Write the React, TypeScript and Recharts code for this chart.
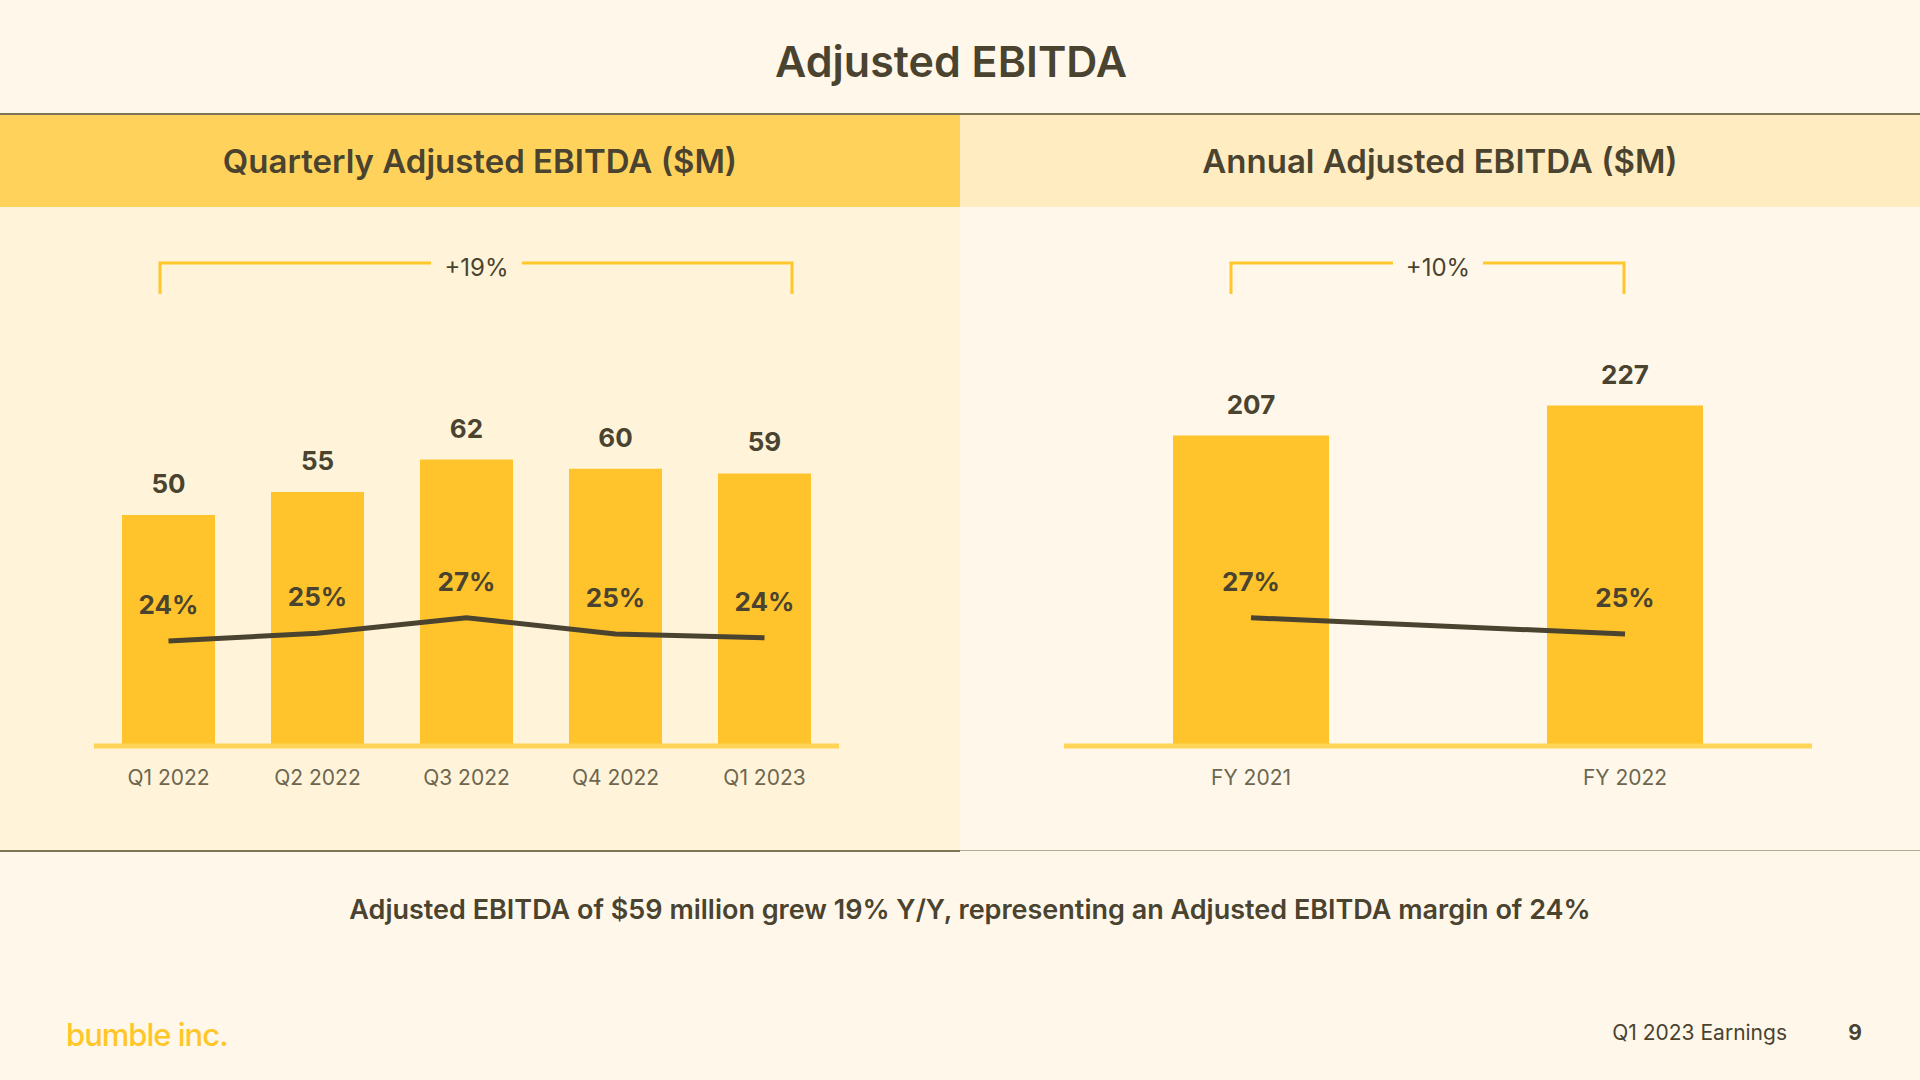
import * as React from "react";
import { Bar, ComposedChart, LabelList, Line, XAxis, YAxis } from "recharts";

const quarters = ["Q1 2022", "Q2 2022", "Q3 2022", "Q4 2022", "Q1 2023"];
const quarterlyEbitda = [50, 55, 62, 60, 59];
const quarterlyMargin = [23.9, 24.9, 26.9, 24.8, 24.3];

const years = ["FY 2021", "FY 2022"];
const annualEbitda = [207, 227];
const annualMargin = [26.9, 24.8];

const FONT = "Inter, 'Open Sans', sans-serif";
const DARK = "#4a4330";
const BAR = "#ffc42b";
const AXIS = "#ffd457";
const BRACKET = "#ffc72c";

const quarterlyData = quarters.map((name, i) => ({
  name,
  ebitda: quarterlyEbitda[i],
  margin: quarterlyMargin[i],
}));

const annualData = years.map((name, i) => ({
  name,
  ebitda: annualEbitda[i],
  margin: annualMargin[i],
}));

interface PanelChartProps {
  data: { name: string; ebitda: number; margin: number }[];
  valueMax: number;
  barSize: number;
  left: number;
  right: number;
}

// one chart: bars for $M, line for margin (own hidden axis)
const PanelChart = ({ data, valueMax, barSize, left, right }: PanelChartProps) => (
  <ComposedChart
    width={960}
    height={644}
    data={data}
    margin={{ top: 77, right, left, bottom: 65 }}
  >
    <XAxis
      dataKey="name"
      height={40}
      tickLine={false}
      tickSize={0}
      tickMargin={24}
      axisLine={{ stroke: AXIS, strokeWidth: 5 }}
      tick={{ fill: "#6d6650", fontSize: 21, fontFamily: FONT }}
      interval={0}
    />
    <YAxis yAxisId="v" hide domain={[0, valueMax]} />
    <YAxis yAxisId="p" hide domain={[10.3, 70.1]} />
    <Bar yAxisId="v" dataKey="ebitda" fill={BAR} barSize={barSize} isAnimationActive={false}>
      <LabelList
        dataKey="ebitda"
        position="top"
        offset={22}
        fill={DARK}
        fontSize={26}
        fontWeight={700}
        fontFamily={FONT}
      />
    </Bar>
    <Line
      yAxisId="p"
      dataKey="margin"
      type="linear"
      stroke={DARK}
      strokeWidth={5}
      dot={false}
      activeDot={false}
      isAnimationActive={false}
    >
      <LabelList
        dataKey="margin"
        position="top"
        offset={27}
        fill={DARK}
        fontSize={26}
        fontWeight={700}
        fontFamily={FONT}
        formatter={(v: number) => `${Math.round(v)}%`}
      />
    </Line>
  </ComposedChart>
);

const Bracket = ({ x1, x2, gapL, gapR, label }: { x1: number; x2: number; gapL: number; gapR: number; label: string }) => (
  <g>
    <polyline points={`${gapL},263 ${x1},263 ${x1},294`} fill="none" stroke={BRACKET} strokeWidth={3} />
    <polyline points={`${gapR},263 ${x2},263 ${x2},294`} fill="none" stroke={BRACKET} strokeWidth={3} />
    <text
      x={(gapL + gapR) / 2}
      y={267}
      textAnchor="middle"
      dominantBaseline="central"
      fill={DARK}
      fontSize={24}
      fontFamily={FONT}
    >
      {label}
    </text>
  </g>
);

const abs = (left: number, top: number, width: number, height: number, extra: React.CSSProperties = {}): React.CSSProperties => ({
  position: "absolute",
  left,
  top,
  width,
  height,
  ...extra,
});

export default function App() {
  return (
    <div style={abs(0, 0, 1920, 1080, { background: "#fff8ea", fontFamily: FONT, overflow: "hidden" })}>
      <div
        style={abs(0, 30, 1902, 62, {
          textAlign: "center",
          fontSize: 43,
          fontWeight: 600,
          color: DARK,
          lineHeight: "62px",
        })}
      >
        Adjusted EBITDA
      </div>

      <div style={abs(0, 113, 1920, 2, { background: "#7d7556" })} />
      <div style={abs(0, 115, 960, 92, { background: "#ffd35b" })} />
      <div style={abs(960, 115, 960, 92, { background: "#ffecc1" })} />
      <div style={abs(0, 207, 960, 644, { background: "#fff4da" })} />
      <div style={abs(0, 850, 960, 2, { background: "#7d7556" })} />
      <div style={abs(960, 850, 960, 1, { background: "#b2ac94" })} />

      <div
        style={abs(0, 115, 960, 92, {
          textAlign: "center",
          lineHeight: "92px",
          fontSize: 33,
          fontWeight: 600,
          color: DARK,
        })}
      >
        Quarterly Adjusted EBITDA ($M)
      </div>
      <div
        style={abs(960, 115, 960, 92, {
          textAlign: "center",
          lineHeight: "92px",
          fontSize: 33,
          fontWeight: 600,
          color: DARK,
        })}
      >
        Annual Adjusted EBITDA ($M)
      </div>

      <div style={abs(0, 207, 960, 644)}>
        <PanelChart data={quarterlyData} valueMax={100} barSize={93} left={94} right={121} />
      </div>
      <div style={abs(960, 207, 960, 644)}>
        <PanelChart data={annualData} valueMax={308} barSize={156} left={104} right={108} />
      </div>

      <svg style={abs(0, 0, 1920, 1080, { pointerEvents: "none" })} width={1920} height={1080}>
        <Bracket x1={160} x2={792} gapL={431} gapR={522} label="+19%" />
        <Bracket x1={1231} x2={1624} gapL={1393} gapR={1483} label="+10%" />
      </svg>

      <div
        style={abs(0, 890, 1940, 40, {
          textAlign: "center",
          lineHeight: "40px",
          fontSize: 27,
          fontWeight: 600,
          color: DARK,
        })}
      >
        Adjusted EBITDA of $59 million grew 19% Y/Y, representing an Adjusted EBITDA margin of 24%
      </div>

      <div
        style={abs(66, 1015, 300, 40, {
          lineHeight: "40px",
          fontSize: 31,
          fontWeight: 500,
          color: "#ffc629",
          letterSpacing: -1,
        })}
      >
        bumble inc.
      </div>
      <div
        style={abs(1500, 1015, 287, 36, {
          textAlign: "right",
          lineHeight: "36px",
          fontSize: 21,
          color: DARK,
        })}
      >
        Q1 2023 Earnings
      </div>
      <div
        style={abs(1840, 1015, 30, 36, {
          textAlign: "center",
          lineHeight: "36px",
          fontSize: 21,
          fontWeight: 700,
          color: DARK,
        })}
      >
        9
      </div>
    </div>
  );
}
